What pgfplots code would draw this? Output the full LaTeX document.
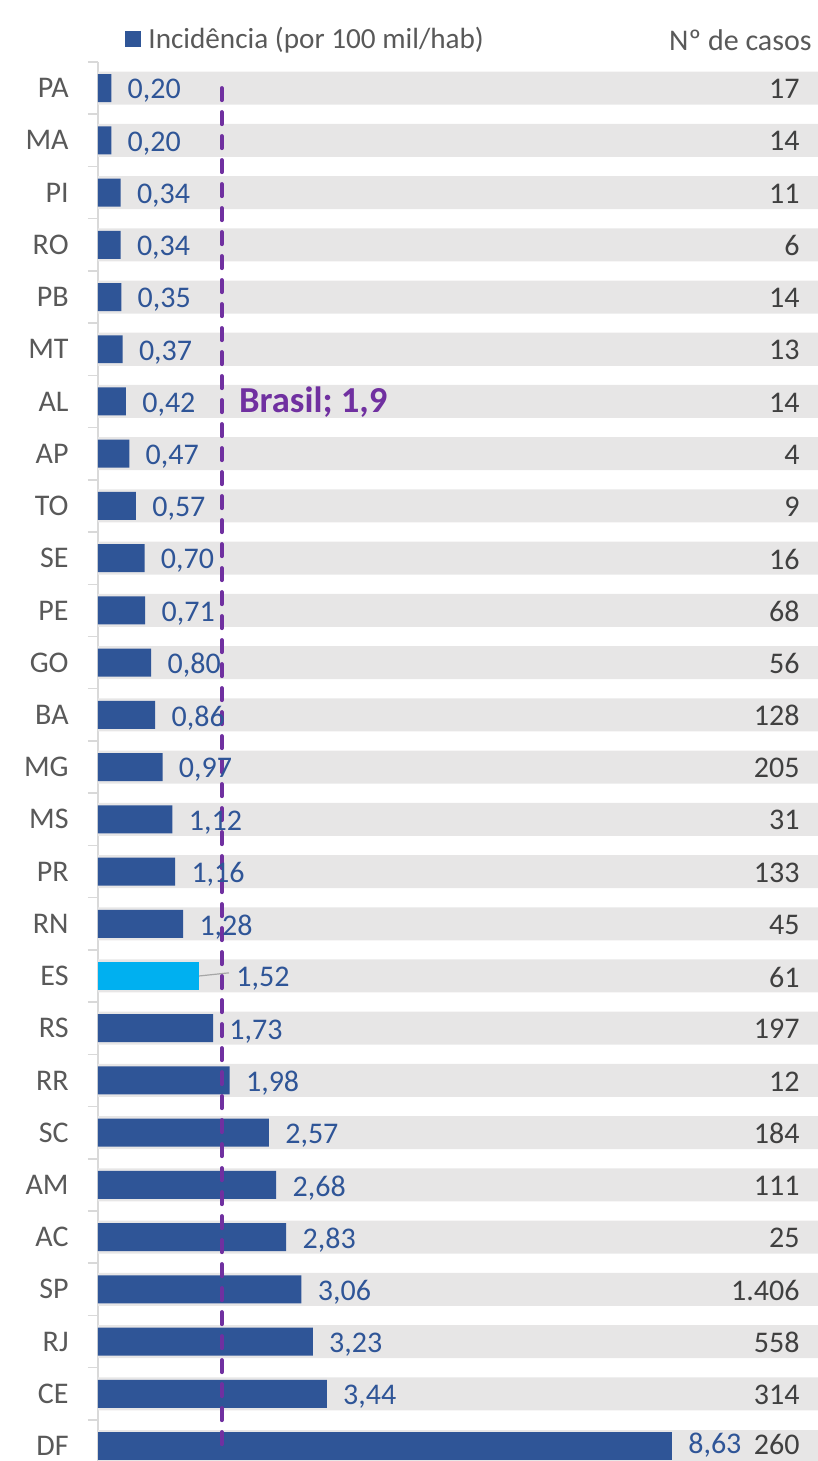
\documentclass[border=0pt]{standalone}
\usepackage{pgfplots}
\pgfplotsset{compat=1.18}
\usepackage{fontspec}
\setmainfont{Carlito}
\definecolor{barblue}{HTML}{2F5597}
\definecolor{escyan}{HTML}{00B0F0}
\definecolor{bandgray}{HTML}{E7E6E6}
\definecolor{brasil}{HTML}{7030A0}
\definecolor{txtgray}{HTML}{595959}
\definecolor{cntgray}{HTML}{404040}
\definecolor{axisgray}{HTML}{D9D9D9}
\newcommand\lbl{\fontsize{15}{18}\selectfont}
\begin{document}
\begin{tikzpicture}
\begin{axis}[
  scale only axis, width=360pt, height=699.5pt,
  xmin=0, xmax=10.827, ymin=-0.5, ymax=26.287,
  y dir=reverse,
  clip=false,
  axis x line=none,
  axis y line*=left,
  y axis line style={draw=axisgray, line width=0.75pt},
  ytick={0,...,26},
  yticklabels={PA,MA,PI,RO,PB,MT,AL,AP,TO,SE,PE,GO,BA,MG,MS,PR,RN,ES,RS,RR,SC,AM,AC,SP,RJ,CE,DF},
  yticklabel style={font=\lbl, text=txtgray, inner sep=0pt, xshift=-14.5pt},
  major tick length=0pt,
  minor ytick={-0.5,0.5,...,25.5},
  minor tick length=5pt, tick align=outside,
  minor tick style={draw=axisgray, line width=0.75pt},
  legend style={at={(0.0375,1)}, anchor=west, yshift=11.5pt, draw=none, fill=none,
    inner sep=0pt, font=\fontsize{14.6}{18}\selectfont, text=txtgray, column sep=3.5pt, nodes={inner sep=0pt}},
  legend image code/.code={\fill[#1] (0pt,-4pt) rectangle (8pt,4pt);},
]
% background bands with number of cases
\addplot[xbar, bar shift=0pt, bar width=0.632, fill=bandgray, draw=none, forget plot,
  point meta=explicit symbolic, nodes near coords,
  every node near coord/.append style={anchor=east, inner sep=0pt, xshift=-9pt, yshift=-0.5pt, font=\lbl, text=cntgray}]
 coordinates {
 (10.827,0) [17] (10.827,1) [14] (10.827,2) [11] (10.827,3) [6] (10.827,4) [14]
 (10.827,5) [13] (10.827,6) [14] (10.827,7) [4] (10.827,8) [9] (10.827,9) [16]
 (10.827,10) [68] (10.827,11) [56] (10.827,12) [128] (10.827,13) [205] (10.827,14) [31]
 (10.827,15) [133] (10.827,16) [45] (10.827,17) [61] (10.827,18) [197] (10.827,19) [12]
 (10.827,20) [184] (10.827,21) [111] (10.827,22) [25] (10.827,23) [{1.406}] (10.827,24) [558]
 (10.827,25) [314]
 };
\addplot[xbar, bar shift=0pt, bar width=0.632, fill=bandgray, draw=none, forget plot,
  point meta=explicit symbolic, nodes near coords,
  every node near coord/.append style={anchor=east, inner sep=0pt, xshift=-9pt, yshift=1pt, font=\lbl, text=cntgray}]
 coordinates {(10.827,26) [260]};
% incidence bars
\addplot[xbar, bar shift=0pt, bar width=0.536, fill=barblue, draw=none,
  point meta=explicit symbolic, nodes near coords,
  every node near coord/.append style={anchor=west, inner sep=0pt, xshift=8pt, yshift=-1.5pt, font=\lbl, text=barblue}]
 coordinates {
 (0.20,0) [{0,20}] (0.20,1) [{0,20}] (0.34,2) [{0,34}] (0.34,3) [{0,34}] (0.35,4) [{0,35}]
 (0.37,5) [{0,37}] (0.42,6) [{0,42}] (0.47,7) [{0,47}] (0.57,8) [{0,57}] (0.70,9) [{0,70}]
 (0.71,10) [{0,71}] (0.80,11) [{0,80}] (0.86,12) [{0,86}] (0.97,13) [{0,97}] (1.12,14) [{1,12}]
 (1.16,15) [{1,16}] (1.28,16) [{1,28}] (1.73,18) [{1,73}] (1.98,19) [{1,98}]
 (2.57,20) [{2,57}] (2.68,21) [{2,68}] (2.83,22) [{2,83}] (3.06,23) [{3,06}] (3.23,24) [{3,23}]
 (3.44,25) [{3,44}]
 };
\addlegendentry{Incidência (por 100 mil/hab)}
\addplot[xbar, bar shift=0pt, bar width=0.536, fill=barblue, draw=none, forget plot,
  point meta=explicit symbolic, nodes near coords,
  every node near coord/.append style={anchor=west, inner sep=0pt, xshift=8pt, yshift=0.5pt, font=\lbl, text=barblue}]
 coordinates {(8.63,26) [{8,63}]};
% ES highlighted
\addplot[xbar, bar shift=0pt, bar width=0.536, fill=escyan, draw=none, forget plot,
  point meta=explicit symbolic, nodes near coords,
  every node near coord/.append style={anchor=west, inner sep=0pt, xshift=18.5pt, yshift=-1.5pt, font=\lbl, text=barblue}]
 coordinates {(1.52,17) [{1,52}]};
\draw[draw=gray!70, line width=0.6pt] (axis cs:1.52,17) -- (axis cs:1.97,16.94);
% Brasil reference line
\addplot[draw=brasil, line width=2pt, line cap=round, dash pattern=on 6pt off 6pt, forget plot]
 coordinates {(1.86,0) (1.86,26)};
\node[anchor=west, inner sep=0pt, xshift=8.5pt, yshift=-0.5pt, text=brasil, font=\fontsize{18.3}{21}\selectfont\bfseries]
 at (axis cs:1.86,6) {Brasil; 1,9};
\end{axis}
\node[anchor=east, inner sep=0pt, xshift=-3pt, yshift=11pt, font=\lbl, text=txtgray]
 at (current axis.north east) {Nº de casos};
\pgfresetboundingbox
\path (current axis.south west) ++(-49pt,0pt) coordinate (bbA);
\path (current axis.north east) ++(0pt,31pt) coordinate (bbB);
\path[use as bounding box] (bbA) rectangle (bbB);
\end{tikzpicture}
\end{document}
